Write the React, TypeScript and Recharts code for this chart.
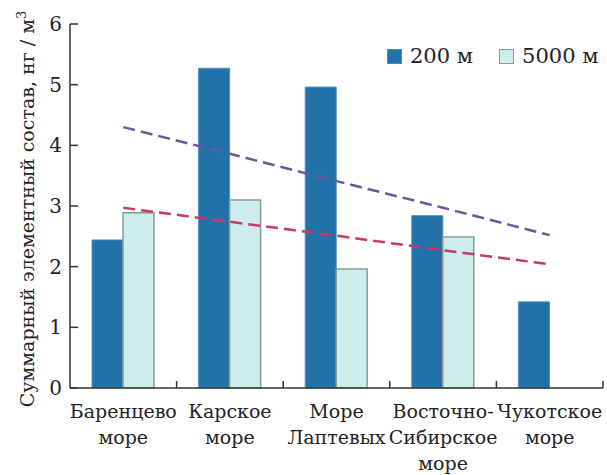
import React from 'react';
import { ComposedChart, Bar, Line, XAxis, YAxis } from 'recharts';

const categories = [
  'Баренцево\nморе',
  'Карское\nморе',
  'Море\nЛаптевых',
  'Восточно-\nСибирское\nморе',
  'Чукотское\nморе',
];
const values200 = [2.44, 5.27, 4.96, 2.84, 1.42];
const values5000: (number | null)[] = [2.89, 3.1, 1.96, 2.49, null];
const trend200 = [4.3, 3.86, 3.41, 2.97, 2.52];
const trend5000 = [2.97, 2.74, 2.51, 2.27, 2.04];
const yTicks = [0, 1, 2, 3, 4, 5, 6];
const legendLabels = ['200 м', '5000 м'];

const data = categories.map((name, i) => ({
  name,
  d200: values200[i],
  d5000: values5000[i],
  t200: trend200[i],
  t5000: trend5000[i],
}));

const FONT = '"DejaVu Serif", serif';
const TEXT = '#222';
const AXIS = '#2b3a2b';
const DARK = '#2272a9';
const DARK_EDGE = '#4a8fc2';
const LIGHT = '#cdeded';
const LIGHT_EDGE = '#8a9a9a';
const PURPLE = '#6b5a9c';
const RED = '#c53a68';

function XTick(props: any) {
  const { x, y, payload } = props;
  const lines = String(payload.value).split('\n');
  const half = payload.offset != null ? payload.offset : 53.3;
  return (
    <g>
      <line x1={x + half} x2={x + half} y1={y} y2={y - 7} stroke={AXIS} strokeWidth={1.5} />
      <text x={x} y={y} textAnchor="middle" fontFamily={FONT} fontSize={19} fill={TEXT}>
        {lines.map((l, i) => (
          <tspan key={i} x={x} dy={i === 0 ? 30 : 26}>
            {l}
          </tspan>
        ))}
      </text>
    </g>
  );
}

function YTick(props: any) {
  const { x, y, payload } = props;
  return (
    <g>
      <line x1={x + 8} x2={x + 16} y1={y} y2={y} stroke={AXIS} strokeWidth={1.5} />
      <text x={x} y={y} dy="0.35em" textAnchor="end" fontFamily={FONT} fontSize={20} fill={TEXT}>
        {payload.value}
      </text>
    </g>
  );
}

function YLabel(props: any) {
  const vb = props.viewBox || { x: 0, y: 24, width: 70, height: 364 };
  const cx = vb.x + 27;
  const cy = vb.y + vb.height / 2 + 3;
  return (
    <text
      transform={`translate(${cx},${cy}) rotate(-90)`}
      textAnchor="middle"
      dy="0.35em"
      fontFamily={FONT}
      fontSize={19}
      fill={TEXT}
    >
      Суммарный элементный состав, нг / м
      <tspan dy={-8} fontSize={13}>3</tspan>
    </text>
  );
}

function LegendBox() {
  const colors = [
    { fill: DARK, edge: DARK_EDGE },
    { fill: LIGHT, edge: LIGHT_EDGE },
  ];
  return (
    <div
      style={{
        position: 'absolute',
        left: 387,
        top: 44,
        display: 'flex',
        alignItems: 'center',
        fontFamily: FONT,
        fontSize: 21,
        color: TEXT,
        lineHeight: '24px',
      }}
    >
      {legendLabels.map((l, i) => (
        <div key={i} style={{ display: 'flex', alignItems: 'center', marginRight: i === 0 ? 26 : 0 }}>
          <span
            style={{
              display: 'inline-block',
              width: 13,
              height: 13,
              background: colors[i].fill,
              border: `1px solid ${colors[i].edge}`,
              marginRight: 8,
            }}
          />
          <span style={{ whiteSpace: 'nowrap' }}>{l}</span>
        </div>
      ))}
    </div>
  );
}

export default function App() {
  return (
    <div style={{ position: 'absolute', left: 0, top: 0, width: 607, height: 475, background: '#fff' }}>
      <ComposedChart
        width={607}
        height={475}
        data={data}
        margin={{ top: 24, right: 4, bottom: 0, left: 0 }}
        barCategoryGap={22}
        barGap={0}
      >
        <XAxis
          dataKey="name"
          height={87}
          interval={0}
          tickSize={0}
          tickMargin={0}
          tickLine={false}
          axisLine={{ stroke: AXIS, strokeWidth: 1.5 }}
          tick={<XTick />}
        />
        <YAxis
          width={70}
          domain={[0, 6]}
          ticks={yTicks}
          interval={0}
          tickSize={0}
          tickMargin={8}
          tickLine={false}
          axisLine={{ stroke: AXIS, strokeWidth: 1.5 }}
          tick={<YTick />}
          label={{ content: (p: any) => <YLabel {...p} /> }}
        />
        <Bar dataKey="d200" fill={DARK} stroke={DARK_EDGE} strokeWidth={1} isAnimationActive={false} />
        <Bar dataKey="d5000" fill={LIGHT} stroke={LIGHT_EDGE} strokeWidth={1.5} isAnimationActive={false} />
        <Line
          dataKey="t200"
          type="linear"
          stroke={PURPLE}
          strokeWidth={2.5}
          strokeDasharray="12 6"
          dot={false}
          activeDot={false}
          isAnimationActive={false}
        />
        <Line
          dataKey="t5000"
          type="linear"
          stroke={RED}
          strokeWidth={2.5}
          strokeDasharray="12 6"
          dot={false}
          activeDot={false}
          isAnimationActive={false}
        />
      </ComposedChart>
      <LegendBox />
    </div>
  );
}
